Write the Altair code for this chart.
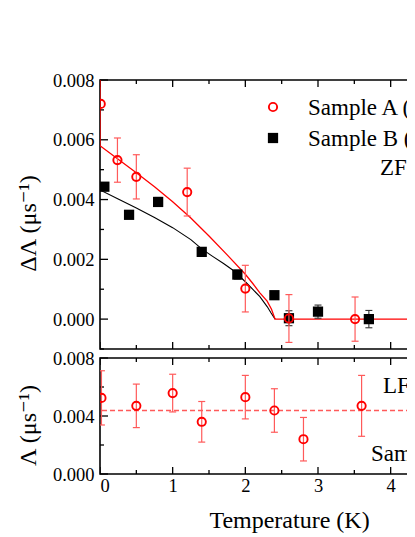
import altair as alt
import pandas as pd

# ---------------- data ----------------
# Top panel: ZF relaxation difference
a_T = [0.01, 0.24, 0.50, 1.20, 2.00, 2.60, 3.51]
a_val = [0.00720, 0.00532, 0.00476, 0.00425, 0.00102, 0.00002, 0.00000]
a_err = [0.00000, 0.00074, 0.00074, 0.00080, 0.00078, 0.00080, 0.00074]

b_T = [0.06, 0.40, 0.80, 1.40, 1.89, 2.40, 2.60, 3.00, 3.70]
b_val = [0.00443, 0.00349, 0.00392, 0.00225, 0.00149, 0.00080, 0.00003, 0.00025, 0.00000]
b_err = [0.00010, 0.00008, 0.00015, 0.00010, 0.00015, 0.00008, 0.00025, 0.00022, 0.00029]

# fitted curves
fitA_T = [0.0, 0.0, 0.25, 0.5, 0.75, 1.0, 1.25, 1.5, 1.75, 2.0, 2.1, 2.2, 2.3, 2.36, 2.41, 5.0]
fitA_v = [0.0085, 0.0058, 0.00535, 0.0049, 0.00443, 0.00393, 0.00338, 0.00278, 0.00215, 0.0015,
          0.0012, 0.00088, 0.0006, 0.00033, 0.0, 0.0]
fitB_T = [0.0, 0.25, 0.5, 0.75, 1.0, 1.25, 1.4, 1.55, 1.7, 1.85, 2.0, 2.1, 2.2, 2.3, 2.35, 2.41]
fitB_v = [0.00432, 0.00402, 0.00372, 0.0034, 0.00306, 0.00266, 0.00235, 0.0021, 0.00186, 0.0016,
          0.00125, 0.001, 0.00075, 0.00042, 0.00022, 0.0]

# Bottom panel: LF relaxation
c_T = [0.02, 0.5, 1.0, 1.4, 2.0, 2.4, 2.8, 3.6]
c_val = [0.00525, 0.00470, 0.00558, 0.00360, 0.00530, 0.00438, 0.00240, 0.00470]
c_err = [0.00187, 0.00150, 0.00130, 0.00140, 0.00150, 0.00150, 0.00150, 0.00210]
c_mean = [0.00438]

# tick values
x_major = [0, 1, 2, 3, 4, 5]
x_minor = [0.5, 1.5, 2.5, 3.5, 4.5]
y1_major = [0.0, 0.002, 0.004, 0.006, 0.008]
y1_minor = [-0.001, 0.001, 0.003, 0.005, 0.007]
y2_major = [0.0, 0.004, 0.008]
y2_minor = [0.002, 0.006]

# ---------------- styling ----------------
FONT = "Times New Roman, Liberation Serif, DejaVu Serif, serif"
RED = "#ff0000"
ERR_RED = "#ff5a5a"
W = 327
H1 = 269
H2 = 116

xs = alt.Scale(domain=[0, 4.5], nice=False, zero=False)
y1s = alt.Scale(domain=[-0.001, 0.008], nice=False)
y2s = alt.Scale(domain=[0, 0.008], nice=False)


def df(**cols):
    return pd.DataFrame(cols)


A = df(T=a_T, v=a_val, lo=[v - e for v, e in zip(a_val, a_err)], hi=[v + e for v, e in zip(a_val, a_err)])
A_err = A[[e > 0 for e in a_err]]
B = df(T=b_T, v=b_val, lo=[v - e for v, e in zip(b_val, b_err)], hi=[v + e for v, e in zip(b_val, b_err)])
C = df(T=c_T, v=c_val, lo=[v - e for v, e in zip(c_val, c_err)], hi=[v + e for v, e in zip(c_val, c_err)])
FA = df(T=fitA_T, v=fitA_v, i=list(range(len(fitA_T))))
FB = df(T=fitB_T, v=fitB_v, i=list(range(len(fitB_T))))

y1axis = alt.Axis(values=y1_major, format=".3f", ticks=False, domain=False, grid=False,
                  labelPadding=6, title="ΔΛ (μs⁻¹)", titleX=-65, titleY=143,
                  titleBaseline="alphabetic", titleAngle=270)
y2axis = alt.Axis(values=y2_major, format=".3f", ticks=False, domain=False, grid=False,
                  labelPadding=6, title="Λ (μs⁻¹)", titleX=-65, titleY=67,
                  titleBaseline="alphabetic", titleAngle=270)
xaxis_bottom = alt.Axis(values=x_major, format="d", ticks=False, domain=False, grid=False,
                        labelPadding=2, title="Temperature (K)", titleX=189, titleY=53,
                        titleBaseline="alphabetic")


def build_panel(H, ys, yaxis, xaxis, ymaj, ymin):
    def X(field="T"):
        return alt.X(f"{field}:Q", scale=xs, axis=xaxis)

    def Y(field="v"):
        return alt.Y(f"{field}:Q", scale=ys, axis=yaxis)

    layers = []
    layers.append(alt.Chart(df(v=ymaj)).mark_rule(color="black", strokeWidth=1.3).encode(
        y=Y(), x=alt.value(0), x2=alt.value(8)))
    layers.append(alt.Chart(df(v=ymin)).mark_rule(color="black", strokeWidth=1.3).encode(
        y=Y(), x=alt.value(0), x2=alt.value(4)))
    for vals, L in ((x_major, 7), (x_minor, 4)):
        layers.append(alt.Chart(df(T=vals)).mark_rule(color="black", strokeWidth=1.3, clip=True).encode(
            x=X(), y=alt.value(0), y2=alt.value(L)))
        layers.append(alt.Chart(df(T=vals)).mark_rule(color="black", strokeWidth=1.3, clip=True).encode(
            x=X(), y=alt.value(H), y2=alt.value(H - L)))

    def errbars(data, color, width=1.2, cap=3.5):
        bar = alt.Chart(data).mark_rule(color=color, strokeWidth=width, clip=True).encode(
            x=X(), y=Y("lo"), y2="hi:Q")
        capt = alt.Chart(data).mark_rule(color=color, strokeWidth=width, xOffset=-cap, x2Offset=cap,
                                         clip=True).encode(x=X(), x2="T:Q", y=Y("hi"))
        capb = alt.Chart(data).mark_rule(color=color, strokeWidth=width, xOffset=-cap, x2Offset=cap,
                                         clip=True).encode(x=X(), x2="T:Q", y=Y("lo"))
        return [bar, capt, capb]

    return layers, X, Y, errbars


one = pd.DataFrame({"k": [0]})


def label(text, x, y):
    return alt.Chart(one).mark_text(text=text, font=FONT, fontSize=23, align="left",
                                    baseline="middle", color="black", clip=True).encode(
        x=alt.value(x), y=alt.value(y))


# ---------------- top panel ----------------
top_layers, X1, Y1, eb1 = build_panel(H1, y1s, y1axis, None, y1_major, y1_minor)
top_layers.append(alt.Chart(FB).mark_line(color="black", strokeWidth=1.1, clip=True).encode(
    x=X1(), y=Y1(), order="i:Q"))
top_layers.append(alt.Chart(FA).mark_line(color=RED, strokeWidth=1.3, clip=True).encode(
    x=X1(), y=Y1(), order="i:Q"))
top_layers += eb1(B, "#333333", width=1.1)
top_layers.append(alt.Chart(B).mark_point(shape="square", filled=True, color="black", size=105,
                                          opacity=1, clip=True).encode(x=X1(), y=Y1()))
top_layers += eb1(A_err, ERR_RED)
top_layers.append(alt.Chart(A).mark_point(shape="circle", filled=False, color=RED, size=68,
                                          strokeWidth=1.9, opacity=1, clip=True).encode(x=X1(), y=Y1()))
top_layers.append(alt.Chart(one).mark_point(shape="circle", filled=False, color=RED, size=68,
                                            strokeWidth=1.9, opacity=1).encode(
    x=alt.value(173), y=alt.value(27)))
top_layers.append(alt.Chart(one).mark_point(shape="square", filled=True, color="black", size=105,
                                            opacity=1).encode(
    x=alt.value(173), y=alt.value(58)))
top_layers.append(label("Sample A (x=0)", 208, 28))
top_layers.append(label("Sample B (x=0)", 208, 59))
top_layers.append(label("ZF-μSR", 280, 88))

top = alt.layer(*top_layers).properties(width=W, height=H1)

# ---------------- bottom panel ----------------
bot_layers, X2, Y2, eb2 = build_panel(H2, y2s, y2axis, xaxis_bottom, y2_major, y2_minor)
bot_layers.append(alt.Chart(df(v=c_mean)).mark_rule(color=ERR_RED, strokeWidth=1.5,
                                                    strokeDash=[5, 3]).encode(y=Y2()))
bot_layers += eb2(C, ERR_RED)
bot_layers.append(alt.Chart(C).mark_point(shape="circle", filled=False, color=RED, size=68,
                                          strokeWidth=1.9, opacity=1, clip=True).encode(x=X2(), y=Y2()))
bot_layers.append(label("LF-μSR", 283, 28))
bot_layers.append(label("Sample A", 271, 96))

bottom = alt.layer(*bot_layers).properties(width=W, height=H2)

chart = alt.vconcat(top, bottom, spacing=-3).properties(
    padding={"top": 62, "left": 7, "right": -22, "bottom": 0}
).configure_view(
    stroke="black", strokeWidth=1.6
).configure_axis(
    labelFont=FONT, labelFontSize=18.5, labelColor="black",
    titleFont=FONT, titleFontSize=24, titleFontWeight="normal", titleColor="black"
)

chart.save("out.html", embed_options={"renderer": "svg", "actions": False})
